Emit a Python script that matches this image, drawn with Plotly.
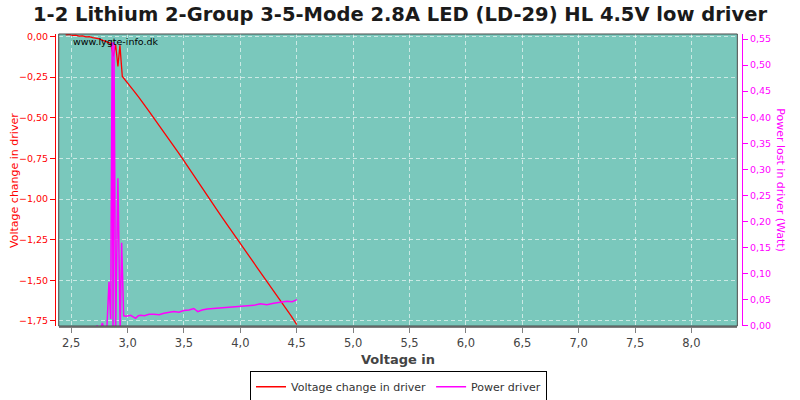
import plotly.graph_objects as go

# ---- data ----
vin_change = [2.45, 2.48, 2.51, 2.54, 2.57, 2.60, 2.63, 2.66, 2.69, 2.72, 2.75, 2.78,
              2.81, 2.83, 2.85, 2.873, 2.894, 2.914, 2.932, 2.953, 2.97, 3.00,
              3.05, 3.10, 3.15, 3.20, 3.25, 3.30, 3.35, 3.40, 3.45, 3.50, 3.55,
              3.60, 3.65, 3.70, 3.75, 3.80, 3.85, 3.90, 3.95, 4.00, 4.05, 4.10,
              4.15, 4.20, 4.25, 4.30, 4.35, 4.40, 4.45, 4.50]
voltage_change = [0.010, 0.012, 0.006, 0.008, 0.002, 0.004, -0.003, -0.001, -0.008,
                  -0.012, -0.015, -0.024, -0.030, -0.036, -0.042, -0.123, -0.051,
                  -0.185, -0.055, -0.246, -0.262, -0.288, -0.330, -0.375, -0.420,
                  -0.470, -0.520, -0.567, -0.615, -0.665, -0.715, -0.765, -0.818,
                  -0.870, -0.922, -0.973, -1.024, -1.075, -1.125, -1.176, -1.226,
                  -1.276, -1.325, -1.374, -1.423, -1.472, -1.520, -1.570, -1.620,
                  -1.670, -1.719, -1.772]

vin_power = [2.70, 2.73, 2.752, 2.776, 2.796, 2.815, 2.835, 2.850, 2.863, 2.871,
             2.879, 2.894, 2.914, 2.934, 2.947, 2.965, 2.990, 3.027, 3.050, 3.071,
             3.095, 3.115, 3.150, 3.190, 3.233, 3.280, 3.321, 3.365, 3.410, 3.455,
             3.498, 3.545, 3.587, 3.622, 3.660, 3.705, 3.760, 3.823, 3.880, 3.941,
             4.000, 4.059, 4.120, 4.177, 4.235, 4.295, 4.350, 4.413, 4.460, 4.502]
power = [-0.010, 0.000, -0.010, 0.005, -0.010, -0.010, 0.084, 0.013, 0.544, -0.010,
         0.544, -0.010, 0.283, -0.010, 0.159, 0.019, 0.018, 0.020, 0.017, 0.014,
         0.019, 0.020, 0.019, 0.022, 0.022, 0.021, 0.024, 0.025, 0.027, 0.026,
         0.029, 0.030, 0.033, 0.027, 0.030, 0.032, 0.033, 0.034, 0.034, 0.036,
         0.036, 0.038, 0.039, 0.042, 0.040, 0.043, 0.045, 0.047, 0.046, 0.050]

x_ticks = [2.5, 3.0, 3.5, 4.0, 4.5, 5.0, 5.5, 6.0, 6.5, 7.0, 7.5, 8.0]

title = "1-2 Lithium 2-Group 3-5-Mode 2.8A LED (LD-29) HL 4.5V low driver"
FONT = "DejaVu Sans"

fig = go.Figure()
fig.add_trace(go.Scatter(x=vin_change, y=voltage_change, mode="lines",
                         name="Voltage change in driver",
                         line=dict(color="#ff0000", width=1.3), yaxis="y"))
fig.add_trace(go.Scatter(x=vin_power, y=power, mode="lines",
                         name="Power driver",
                         line=dict(color="#ff00ff", width=1.5), yaxis="y2"))

grid = "rgba(255,255,255,0.6)"
fig.update_layout(
    width=800, height=400,
    margin=dict(l=55, r=58, t=34, b=74, autoexpand=False),
    paper_bgcolor="white", plot_bgcolor="#7ac8bc",
    separators=",.",
    font=dict(family=FONT, size=11, color="#444444"),
    title=dict(text="<b>" + title + "</b>", x=0.5, xanchor="center",
               y=0.965, yanchor="middle", font=dict(family=FONT, size=19.5, color="#1a1a1a")),
    xaxis=dict(domain=[0.0054, 0.9932], range=[2.389, 8.407], automargin=False,
               tickmode="array", tickvals=x_ticks, tickformat=".1f",
               showgrid=True, gridcolor=grid, griddash="4px,3px", gridwidth=1,
               showline=True, linecolor="#808080", linewidth=1.5,
               ticks="outside", ticklen=5, tickcolor="#808080",
               tickfont=dict(size=11.5, color="#444444"),
               zeroline=False,
               title=dict(text="<b>Voltage in</b>", font=dict(size=13, color="#444444"),
                          standoff=6)),
    yaxis=dict(anchor="free", position=0, range=[-1.781, 0.015], automargin=False,
               tick0=0, dtick=0.25, tickformat=".2f",
               showgrid=True, gridcolor=grid, griddash="4px,3px", gridwidth=1,
               showline=True, linecolor="#ff0000", linewidth=1,
               ticks="outside", ticklen=5, tickcolor="#ff0000",
               tickfont=dict(size=9.5, color="#ff0000"), zeroline=False),
    yaxis2=dict(anchor="free", position=1, overlaying="y", side="right", automargin=False,
                range=[-0.0006, 0.5596], tick0=0, dtick=0.05, tickformat=".2f",
                showgrid=False, showline=True, linecolor="#ff00ff", linewidth=1,
                ticks="outside", ticklen=5, tickcolor="#ff00ff",
                tickfont=dict(size=9.5, color="#ff00ff"), zeroline=False),
    legend=dict(orientation="h", x=0.5, xanchor="center", y=-0.155, yanchor="top",
                bordercolor="black", borderwidth=1, bgcolor="white",
                font=dict(size=11, color="#333333"), itemwidth=30,
                tracegroupgap=0),
    showlegend=True,
)

fig.add_shape(type="rect", xref="x domain", yref="y domain", x0=0, x1=1, y0=0, y1=1,
              line=dict(color="#4a4a4a", width=1), fillcolor="rgba(0,0,0,0)", layer="above")

fig.add_annotation(text="www.lygte-info.dk", xref="x domain", yref="y domain",
                   x=0.018, y=0.976, xanchor="left", yanchor="middle", showarrow=False,
                   font=dict(family=FONT, size=9.5, color="#000000"))
fig.add_annotation(text="Voltage change in driver", xref="x domain", yref="y domain",
                   x=-0.066, y=0.5, xanchor="center", yanchor="middle", showarrow=False,
                   textangle=-90, font=dict(family=FONT, size=11, color="#ff0000"))
fig.add_annotation(text="Power lost in driver (Watt)", xref="x domain", yref="y domain",
                   x=1.064, y=0.5, xanchor="center", yanchor="middle", showarrow=False,
                   textangle=90, font=dict(family=FONT, size=11, color="#ff00ff"))

fig.write_html("out.html", config={"displayModeBar": False},
               post_script="document.body.style.margin='0';")
